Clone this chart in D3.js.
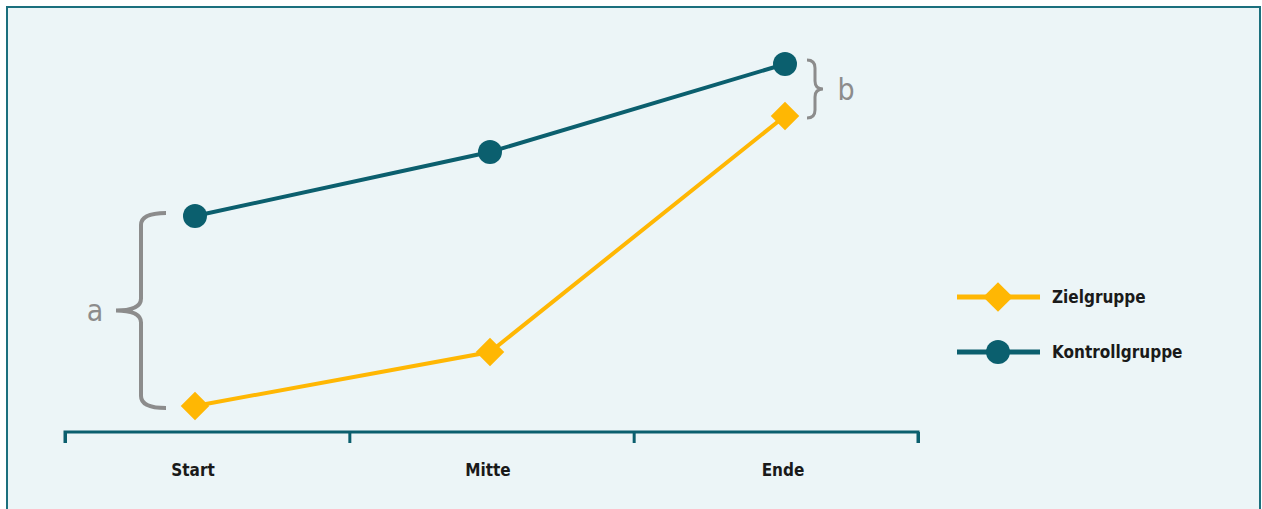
<!DOCTYPE html>
<html>
<head>
<meta charset="utf-8">
<script src="https://cdn.jsdelivr.net/npm/d3@7"></script>
<style>
  body { margin: 0; background: #ffffff; }
  svg text { font-family: "DejaVu Sans Condensed", "DejaVu Sans", sans-serif; }
</style>
</head>
<body>
<div id="chart"></div>
<script>
var width = 1262;
var height = 509;

// data
var phases = ["Start", "Mitte", "Ende"];
var zielgruppe = [6.5, 20, 79];
var kontrollgruppe = [54, 70, 92];
var seriesNames = ["Zielgruppe", "Kontrollgruppe"];

var teal = "#0b5f6e";
var orange = "#ffb703";
var grey = "#8c8c8c";

var svg = d3.select("#chart")
    .append("svg")
    .attr("width", width)
    .attr("height", height);

// panel
svg.append("rect")
    .attr("x", 7).attr("y", 7)
    .attr("width", 1253).attr("height", 520)
    .attr("fill", "#ecf5f7")
    .attr("stroke", "#1b6f7d")
    .attr("stroke-width", 2);

var x = d3.scalePoint().domain(phases).range([195, 785]);
var y = d3.scaleLinear().domain([0, 100]).range([432, 32]);

// axis with tick boundaries between categories
var xb = d3.scaleLinear().domain([0, phases.length]).range([65, 918]);
svg.append("g")
    .attr("transform", "translate(0,432)")
    .call(d3.axisBottom(xb).ticks(phases.length).tickSize(11).tickSizeOuter(11).tickFormat(""))
    .call(g => g.selectAll("path, line").attr("stroke", teal).attr("stroke-width", 3))
    .call(g => g.select(".domain").attr("d", "M65,11V0H918V11"));

svg.selectAll("text.cat")
    .data(phases)
    .join("text")
    .attr("class", "cat")
    .attr("x", (d) => x(d) - 2)
    .attr("y", 476)
    .attr("text-anchor", "middle")
    .attr("font-size", 17)
    .attr("font-weight", "bold")
    .attr("fill", "#1a1a1a")
    .text((d) => d);

var line = d3.line()
    .x((d, i) => x(phases[i]))
    .y((d) => y(d));

// Kontrollgruppe
svg.append("path")
    .datum(kontrollgruppe)
    .attr("d", line)
    .attr("fill", "none")
    .attr("stroke", teal)
    .attr("stroke-width", 4);

svg.selectAll("circle.k")
    .data(kontrollgruppe)
    .join("circle")
    .attr("class", "k")
    .attr("cx", (d, i) => x(phases[i]))
    .attr("cy", (d) => y(d))
    .attr("r", 12)
    .attr("fill", teal);

// Zielgruppe
svg.append("path")
    .datum(zielgruppe)
    .attr("d", line)
    .attr("fill", "none")
    .attr("stroke", orange)
    .attr("stroke-width", 4);

var diamond = d3.symbol().type(d3.symbolDiamond2).size(520);
svg.selectAll("path.z")
    .data(zielgruppe)
    .join("path")
    .attr("class", "z")
    .attr("d", diamond)
    .attr("transform", (d, i) => `translate(${x(phases[i])},${y(d)})`)
    .attr("fill", orange);

// braces
function brace(xEdge, y0, y1, depth, dir) {
    // dir = -1 tip on left, +1 tip on right
    var ym = (y0 + y1) / 2;
    var r = Math.min(depth / 2, 12);
    var xa = xEdge;
    var xb2 = xEdge + dir * depth / 2;
    var xc = xEdge + dir * depth;
    return `M${xa},${y0} Q${xb2},${y0} ${xb2},${y0 + r} L${xb2},${ym - r} Q${xb2},${ym} ${xc},${ym}` +
        ` Q${xb2},${ym} ${xb2},${ym + r} L${xb2},${y1 - r} Q${xb2},${y1} ${xa},${y1}`;
}

var aTop = y(kontrollgruppe[0]) - 3;
var aBot = y(zielgruppe[0]) + 2;
svg.append("path")
    .attr("d", brace(166, aTop, aBot, 50, -1))
    .attr("fill", "none")
    .attr("stroke", grey)
    .attr("stroke-width", 4);
svg.append("text")
    .attr("x", 95).attr("y", (aTop + aBot) / 2 + 10)
    .attr("text-anchor", "middle")
    .attr("font-size", 30)
    .attr("fill", grey)
    .text("a");

var bTop = y(kontrollgruppe[2]) - 4;
var bBot = y(zielgruppe[2]) + 2;
svg.append("path")
    .attr("d", brace(807, bTop, bBot, 16, 1))
    .attr("fill", "none")
    .attr("stroke", grey)
    .attr("stroke-width", 3);
svg.append("text")
    .attr("x", 846).attr("y", (bTop + bBot) / 2 + 11)
    .attr("text-anchor", "middle")
    .attr("font-size", 30)
    .attr("fill", grey)
    .text("b");

// legend
var legend = svg.append("g").attr("transform", "translate(957,297)");
var items = legend.selectAll("g")
    .data(seriesNames)
    .join("g")
    .attr("transform", (d, i) => `translate(0,${i * 55})`);

items.append("line")
    .attr("x1", 0).attr("x2", 83)
    .attr("stroke", (d, i) => i === 0 ? orange : teal)
    .attr("stroke-width", 5);

items.each(function (d, i) {
    var g = d3.select(this);
    if (i === 0) {
        g.append("path")
            .attr("d", d3.symbol().type(d3.symbolDiamond2).size(560))
            .attr("transform", "translate(41,0)")
            .attr("fill", orange);
    } else {
        g.append("circle")
            .attr("cx", 41).attr("r", 12)
            .attr("fill", teal);
    }
});

items.append("text")
    .attr("x", 95)
    .attr("y", 6)
    .attr("font-size", 17)
    .attr("font-weight", "bold")
    .attr("fill", "#1a1a1a")
    .text((d) => d);
</script>
</body>
</html>
